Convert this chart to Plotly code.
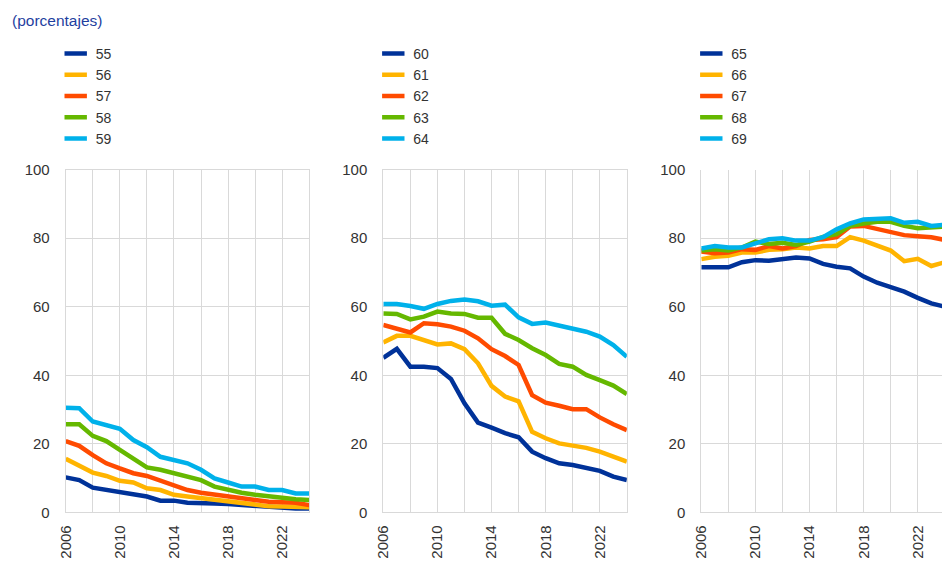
import plotly.graph_objects as go

years = list(range(2006, 2025))

# Panel 1: ages 55-59
age55 = [10.2, 9.4, 7.2, 6.5, 6.1, 5.3, 4.6, 3.4, 3.4, 2.8, 2.8, 2.6, 2.4, 2.1, 1.8, 1.4, 1.1, 1.1, 1.1]
age56 = [15.6, 13.5, 11.6, 10.6, 9.2, 8.7, 7.0, 6.5, 5.1, 4.6, 4.1, 3.6, 3.1, 2.6, 2.3, 1.8, 1.7, 1.7, 1.5]
age57 = [20.8, 19.4, 16.7, 14.3, 12.8, 11.4, 10.6, 9.2, 7.7, 6.5, 5.7, 5.1, 4.6, 4.1, 3.6, 3.1, 3.1, 2.8, 2.1]
age58 = [25.7, 25.7, 22.3, 20.8, 18.2, 15.8, 13.1, 12.4, 11.4, 10.2, 9.4, 7.5, 6.5, 5.7, 5.1, 4.6, 4.3, 3.8, 3.6]
age59 = [30.5, 30.4, 26.5, 25.3, 24.4, 21.1, 19.0, 16.2, 15.3, 14.3, 12.4, 9.9, 8.7, 7.5, 7.5, 6.5, 6.5, 5.5, 5.5]

# Panel 2: ages 60-64
age60 = [45.1, 47.7, 42.5, 42.5, 42.1, 38.9, 31.8, 26.2, 24.7, 23.1, 21.9, 17.7, 15.8, 14.3, 13.8, 12.8, 12.1, 10.4, 9.4]
age61 = [49.6, 51.5, 51.5, 50.3, 49.0, 49.3, 47.6, 43.5, 36.9, 33.8, 32.4, 23.5, 21.6, 20.1, 19.5, 18.8, 17.7, 16.4, 14.8]
age62 = [54.7, 53.7, 52.5, 55.2, 54.9, 54.2, 53.0, 50.8, 47.6, 45.6, 43.0, 34.2, 32.0, 31.1, 30.1, 30.1, 27.7, 25.7, 24.0]
age63 = [58.0, 57.9, 56.3, 57.1, 58.6, 58.0, 57.9, 56.8, 56.8, 52.1, 50.3, 47.9, 45.9, 43.3, 42.5, 40.1, 38.6, 37.0, 34.5]
age64 = [60.8, 60.8, 60.2, 59.4, 60.8, 61.7, 62.1, 61.6, 60.3, 60.6, 56.9, 55.0, 55.4, 54.5, 53.4, 52.7, 51.3, 48.8, 45.4]

# Panel 3: ages 65-69
age65 = [71.5, 71.5, 71.5, 73.0, 73.6, 73.4, 74.0, 74.4, 74.1, 72.5, 71.7, 71.2, 68.8, 67.0, 65.7, 64.4, 62.6, 61.0, 60.0]
age66 = [73.9, 74.6, 74.9, 75.8, 75.8, 76.6, 76.8, 77.3, 77.0, 77.7, 77.7, 80.3, 79.3, 78.0, 76.4, 73.3, 74.0, 71.9, 73.0]
age67 = [76.1, 75.6, 75.8, 76.8, 76.6, 77.7, 77.0, 77.7, 79.5, 79.7, 80.3, 83.4, 83.6, 82.6, 81.6, 80.9, 80.6, 80.3, 79.5]
age68 = [76.4, 76.8, 76.4, 77.3, 79.0, 78.3, 78.7, 78.0, 79.0, 80.4, 81.2, 83.6, 84.3, 84.8, 84.8, 83.6, 82.9, 83.1, 83.4]
age69 = [77.0, 77.7, 77.3, 77.3, 78.5, 79.7, 80.0, 79.3, 79.3, 80.3, 82.6, 84.3, 85.5, 85.5, 85.8, 84.5, 84.8, 83.6, 83.9]

panels = [
    (["55", "56", "57", "58", "59"], [age55, age56, age57, age58, age59]),
    (["60", "61", "62", "63", "64"], [age60, age61, age62, age63, age64]),
    (["65", "66", "67", "68", "69"], [age65, age66, age67, age68, age69]),
]
colors = ["#003299", "#FFB400", "#FF4B00", "#65B800", "#00B1EA"]

W, H = 942, 567
x_left = [65.7, 383.3, 701.3]
px_per_year = 13.53
y_top_px, y_bot_px = 169.7, 512.3

fig = go.Figure()
legend_names = ["legend", "legend2", "legend3"]

for i, (labels, series) in enumerate(panels):
    xa = "x" if i == 0 else f"x{i+1}"
    ya = "y" if i == 0 else f"y{i+1}"
    for lab, vals, col in zip(labels, series, colors):
        fig.add_trace(go.Scatter(
            x=years, y=vals, mode="lines", name=lab,
            line=dict(color=col, width=4.5),
            xaxis=xa, yaxis=ya, showlegend=False,
            hovertemplate="%{x}: %{y:.1f}<extra>" + lab + "</extra>",
        ))
    for lab, col in zip(labels, colors):
        fig.add_trace(go.Scatter(
            x=[None], y=[None], mode="markers", name=lab,
            marker=dict(symbol="line-ew", size=17, color=col,
                        line=dict(color=col, width=4.5)),
            xaxis=xa, yaxis=ya, showlegend=True, legend=legend_names[i],
        ))

grid_col = "#D9D9D9"
font_family = "Liberation Sans, Arial, sans-serif"
tick_font = dict(family=font_family, size=15, color="#333333")

layout = dict(
    template="none",
    width=W, height=H,
    margin=dict(l=0, r=0, t=0, b=0, pad=0, autoexpand=False),
    paper_bgcolor="white", plot_bgcolor="white",
    font=dict(family=font_family, size=15, color="#333333"),
    annotations=[dict(
        text="(porcentajes)", x=10 / W, y=1 - 20 / H, xref="paper", yref="paper",
        xanchor="left", yanchor="middle", showarrow=False,
        font=dict(family=font_family, size=15.5, color="#1F3F9F"),
    )],
)

for i in range(3):
    xk = "xaxis" if i == 0 else f"xaxis{i+1}"
    yk = "yaxis" if i == 0 else f"yaxis{i+1}"
    x0 = x_left[i]
    x1 = min(x0 + 18 * px_per_year, W)
    xmax = 2006 + (x1 - x0) / px_per_year
    ya = "y" if i == 0 else f"y{i+1}"
    xa = "x" if i == 0 else f"x{i+1}"
    layout[xk] = dict(
        domain=[x0 / W, x1 / W], range=[2006, xmax], anchor=ya,
        tickmode="linear", tick0=2006, dtick=4, tickangle=-90,
        showgrid=True, gridcolor=grid_col, gridwidth=1,
        minor=dict(tick0=2006, dtick=2, showgrid=True, gridcolor=grid_col, gridwidth=1),
        showline=True, linecolor=grid_col, linewidth=1, mirror=(i < 2),
        zeroline=False, ticks="", tickfont=tick_font, ticklabelstandoff=6,
        automargin=False, fixedrange=True,
    )
    layout[yk] = dict(
        domain=[1 - y_bot_px / H, 1 - y_top_px / H], range=[0, 100], anchor=xa,
        tickmode="linear", tick0=0, dtick=20,
        showgrid=True, gridcolor=grid_col, gridwidth=1,
        showline=True, linecolor=grid_col, linewidth=1, mirror=(i < 2),
        zeroline=False, ticks="", tickfont=tick_font, ticklabelstandoff=12,
        automargin=False, fixedrange=True,
    )
    layout[legend_names[i]] = dict(
        x=(x0 - 10) / W, y=1 - 38 / H, xanchor="left", yanchor="top",
        bgcolor="rgba(0,0,0,0)", borderwidth=0,
        font=dict(family=font_family, size=14, color="#333333"),
        tracegroupgap=0, itemclick=False, itemdoubleclick=False,
    )

fig.update_layout(**layout)
fig.write_html(
    "out.html",
    config={"displayModeBar": False},
    post_script="document.body.style.margin='0';document.body.style.overflow='hidden';",
)
